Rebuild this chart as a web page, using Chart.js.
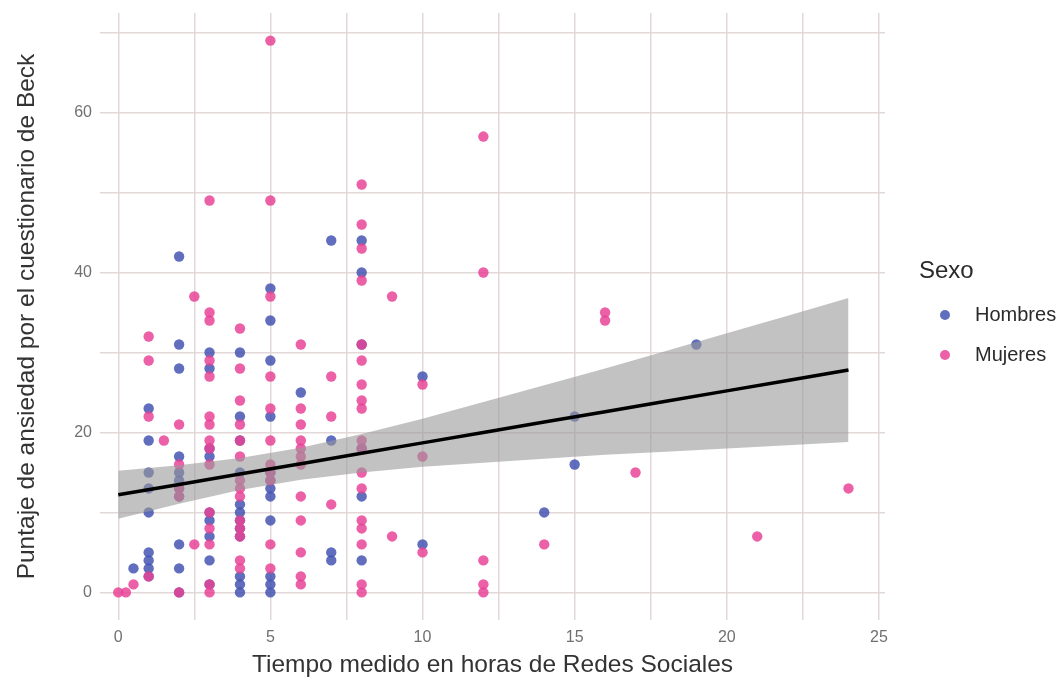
<!DOCTYPE html>
<html>
<head>
<meta charset="utf-8">
<script src="https://cdn.jsdelivr.net/npm/chart.js@4/dist/chart.umd.min.js"></script>
<style>
  html, body { margin: 0; padding: 0; background: #fff; }
  #wrap { width: 1064px; height: 682px; }
</style>
</head>
<body>
<div id="wrap"><canvas id="chart" width="1064" height="682"></canvas></div>
<script>
// Hombres (blue points)
const hombresX = [0.5,
  1, 1, 1, 1, 1, 1, 1, 1, 1,
  2, 2, 2, 2, 2, 2, 2, 2, 2, 2, 2,
  3, 3, 3, 3, 3, 3, 3, 3, 3,
  4, 4, 4, 4, 4, 4, 4, 4, 4, 4, 4, 4,
  5, 5, 5, 5, 5, 5, 5, 5, 5, 5, 5, 5,
  6,
  7, 7, 7, 7,
  8, 8, 8, 8, 8, 8,
  10, 10,
  14,
  15, 15,
  19];
const hombresY = [3,
  23, 19, 15, 13, 10, 5, 4, 3, 2,
  42, 31, 28, 17, 15, 14, 13, 12, 6, 3, 0,
  30, 28, 18, 17, 10, 9, 7, 4, 1,
  30, 22, 19, 15, 11, 10, 9, 8, 7, 2, 1, 0,
  38, 34, 29, 22, 15, 14, 13, 12, 9, 2, 1, 0,
  25,
  44, 19, 5, 4,
  44, 40, 31, 18, 12, 4,
  27, 6,
  10,
  22, 16,
  31];

// Mujeres (pink points)
const mujeresX = [0, 0.25, 0.5,
  1, 1, 1, 1,
  1.5,
  2, 2, 2, 2, 2,
  2.5, 2.5,
  3, 3, 3, 3, 3, 3, 3, 3, 3, 3, 3, 3, 3, 3, 3,
  4, 4, 4, 4, 4, 4, 4, 4, 4, 4, 4, 4, 4, 4,
  5, 5, 5, 5, 5, 5, 5, 5, 5, 5, 5,
  6, 6, 6, 6, 6, 6, 6, 6, 6, 6, 6, 6,
  7, 7, 7,
  8, 8, 8, 8, 8, 8, 8, 8, 8, 8, 8, 8, 8, 8, 8, 8, 8, 8,
  9, 9,
  10, 10, 10,
  12, 12, 12, 12, 12,
  14,
  16, 16,
  17,
  21,
  24];
const mujeresY = [0, 0, 1,
  32, 29, 22, 2,
  19,
  21, 16, 13, 12, 0,
  37, 6,
  49, 35, 34, 29, 27, 22, 21, 19, 18, 16, 10, 8, 6, 1, 0,
  33, 28, 24, 21, 19, 17, 14, 13, 12, 9, 8, 7, 4, 3,
  69, 49, 37, 27, 23, 19, 16, 15, 14, 6, 3,
  31, 23, 21, 19, 18, 17, 16, 12, 9, 5, 2, 1,
  27, 22, 11,
  51, 46, 43, 39, 31, 29, 26, 24, 23, 19, 18, 15, 13, 9, 8, 6, 1, 0,
  37, 7,
  26, 17, 5,
  57, 40, 4, 1, 0,
  6,
  35, 34,
  15,
  7,
  13];

// Fitted line and confidence band
const fitX     = [0, 2, 4, 6, 8, 10, 12, 14, 16, 18, 20, 22, 24];
const fitY     = [12.2, 13.5, 14.8, 16.1, 17.4, 18.7, 20.0, 21.3, 22.6, 23.9, 25.2, 26.5, 27.8];
const fitUpper = [15.2, 15.9, 16.8, 18.1, 19.8, 21.7, 23.8, 25.9, 28.0, 30.2, 32.4, 34.6, 36.8];
const fitLower = [9.2, 11.1, 12.8, 14.1, 15.0, 15.7, 16.2, 16.7, 17.2, 17.6, 18.0, 18.4, 18.8];

// Gridlines / tick labels
const xGrid = [0, 2.5, 5, 7.5, 10, 12.5, 15, 17.5, 20, 22.5, 25];
const xLabels = [0, 5, 10, 15, 20, 25];
const yGrid = [0, 10, 20, 30, 40, 50, 60, 70];
const yLabels = [0, 20, 40, 60];

const legendTitle = 'Sexo';
const legendNames = ['Hombres', 'Mujeres'];
const blue = 'rgba(68, 85, 178, 0.85)';
const pink = 'rgba(232, 68, 150, 0.85)';
const fontFamily = '"Liberation Sans", Arial, sans-serif';

function toPoints(xs, ys) {
  return xs.map((x, i) => ({ x: x, y: ys[i] }));
}

// draws the ggplot-style legend at the right
const sideLegend = {
  id: 'sideLegend',
  afterDraw(chart) {
    const ctx = chart.ctx;
    ctx.save();
    ctx.fillStyle = '#2a2a2a';
    ctx.font = '24px ' + fontFamily;
    ctx.textBaseline = 'middle';
    ctx.fillText(legendTitle, 919, 271);
    const colors = [blue, pink];
    legendNames.forEach((name, i) => {
      const y = 315 + i * 40;
      ctx.beginPath();
      ctx.arc(945, y, 5, 0, Math.PI * 2);
      ctx.fillStyle = colors[i];
      ctx.fill();
      ctx.fillStyle = '#2a2a2a';
      ctx.font = '20px ' + fontFamily;
      ctx.fillText(name, 975, y);
    });
    ctx.restore();
  }
};

new Chart(document.getElementById('chart'), {
  type: 'scatter',
  data: {
    datasets: [
      {
        label: 'Linea',
        type: 'line',
        data: toPoints(fitX, fitY),
        borderColor: '#000',
        borderWidth: 3.5,
        pointRadius: 0,
        fill: false,
        order: 1
      },
      {
        label: 'Superior',
        type: 'line',
        data: toPoints(fitX, fitUpper),
        borderWidth: 0,
        borderColor: 'rgba(0,0,0,0)',
        backgroundColor: 'rgba(153, 153, 153, 0.6)',
        pointRadius: 0,
        fill: '+1',
        order: 2
      },
      {
        label: 'Inferior',
        type: 'line',
        data: toPoints(fitX, fitLower),
        borderWidth: 0,
        borderColor: 'rgba(0,0,0,0)',
        pointRadius: 0,
        fill: false,
        order: 2
      },
      {
        label: legendNames[0],
        data: toPoints(hombresX, hombresY),
        backgroundColor: blue,
        borderWidth: 0,
        pointRadius: 5.2,
        order: 4
      },
      {
        label: legendNames[1],
        data: toPoints(mujeresX, mujeresY),
        backgroundColor: pink,
        borderWidth: 0,
        pointRadius: 5.2,
        order: 3
      }
    ]
  },
  options: {
    responsive: false,
    animation: false,
    layout: { padding: { top: 13, right: 179, bottom: 0, left: 0 } },
    plugins: {
      legend: { display: false },
      tooltip: { enabled: false }
    },
    scales: {
      x: {
        type: 'linear',
        min: -0.6,
        max: 25.2,
        afterBuildTicks: s => { s.ticks = xGrid.map(v => ({ value: v })); },
        afterFit: s => { s.height = 62; },
        grid: { color: '#e3d8d8', lineWidth: 1.5, drawTicks: false },
        border: { display: false },
        ticks: {
          padding: 8,
          color: '#707070',
          font: { family: fontFamily, size: 16 },
          callback: v => xLabels.includes(v) ? String(v) : ''
        },
        title: {
          display: true,
          text: 'Tiempo medido en horas de Redes Sociales',
          color: '#333',
          font: { family: fontFamily, size: 24.5 },
          padding: { top: 0, bottom: 2 }
        }
      },
      y: {
        type: 'linear',
        min: -3.45,
        max: 72.45,
        afterBuildTicks: s => { s.ticks = yGrid.map(v => ({ value: v })); },
        afterFit: s => { s.width = 100; s.paddingTop = 0; s.paddingBottom = 0; },
        grid: { color: '#e3d8d8', lineWidth: 1.5, drawTicks: false },
        border: { display: false },
        ticks: {
          padding: 8,
          color: '#707070',
          font: { family: fontFamily, size: 16 },
          callback: v => yLabels.includes(v) ? String(v) : ''
        },
        title: {
          display: true,
          text: 'Puntaje de ansiedad por el cuestionario de Beck',
          color: '#333',
          font: { family: fontFamily, size: 24.5 },
          padding: { top: 13, bottom: 0 }
        }
      }
    }
  },
  plugins: [sideLegend]
});
</script>
</body>
</html>
